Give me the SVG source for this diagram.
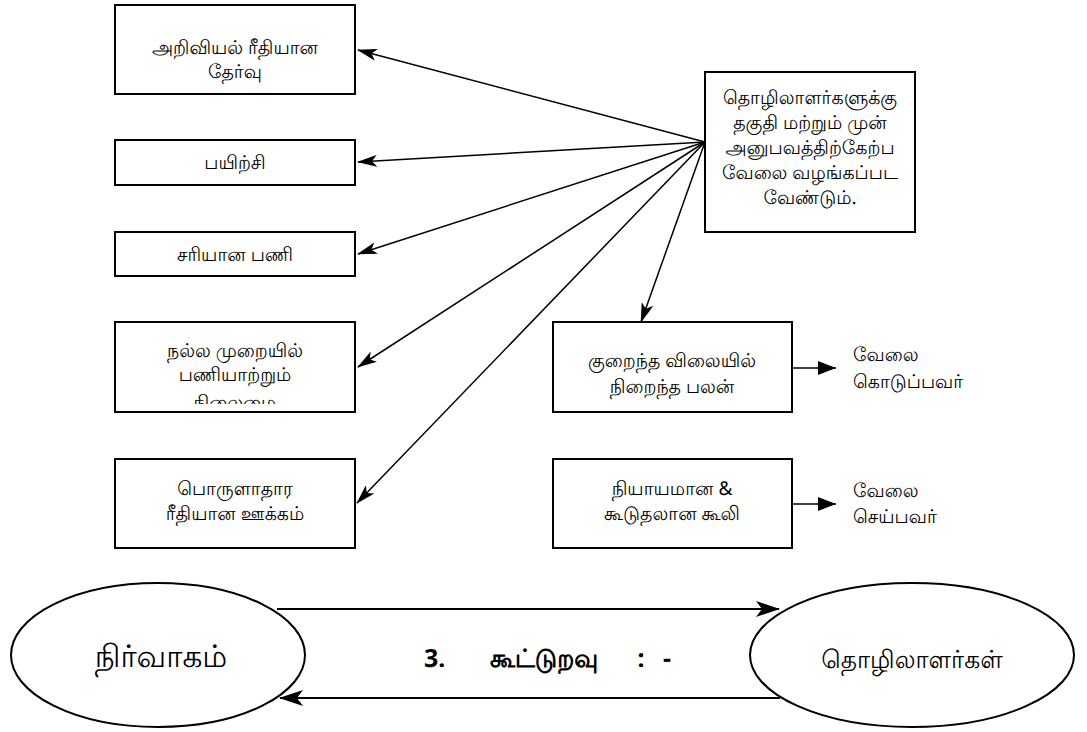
<svg xmlns="http://www.w3.org/2000/svg" width="1087" height="732" viewBox="0 0 1087 732" text-rendering="geometricPrecision">
<style>
.box{fill:#fff;stroke:#000;stroke-width:2}
.ell{fill:#fff;stroke:#000;stroke-width:2}
.t{font-family:"Noto Sans","DejaVu Sans",sans-serif;font-size:19px;fill:#000;text-anchor:middle;text-rendering:geometricPrecision}
.s{text-anchor:start}
.b{font-size:25px;font-weight:bold}
.c{stroke:#000;stroke-width:1.5;fill:none}
.c2{stroke:#000;stroke-width:2;fill:none}
</style>
<defs>
<marker id="barb" viewBox="0 0 20 12" refX="19" refY="6" markerWidth="20" markerHeight="12" markerUnits="userSpaceOnUse" orient="auto">
<path d="M0,0 L20,6 L0,12 L5,6 Z" fill="#000"/>
</marker>
<marker id="barbL" viewBox="0 0 24 16" refX="23" refY="8" markerWidth="24" markerHeight="16" markerUnits="userSpaceOnUse" orient="auto">
<path d="M0,0 L24,8 L0,16 L6,8 Z" fill="#000"/>
</marker>
<marker id="tri" viewBox="0 0 18 14" refX="18" refY="7" markerWidth="18" markerHeight="14" markerUnits="userSpaceOnUse" orient="auto">
<path d="M0,0 L18,7 L0,14 Z" fill="#000"/>
</marker>
<clipPath id="clip4"><rect x="116" y="323" width="238" height="81"/></clipPath>
</defs>

<g id="connectors">
<line class="c" x1="705" y1="142" x2="358" y2="50" marker-end="url(#barb)"/>
<line class="c" x1="705" y1="142" x2="358" y2="162" marker-end="url(#barb)"/>
<line class="c" x1="705" y1="142" x2="358" y2="254" marker-end="url(#barb)"/>
<line class="c" x1="705" y1="142" x2="358" y2="367" marker-end="url(#barb)"/>
<line class="c" x1="705" y1="142" x2="357" y2="503" marker-end="url(#barb)"/>
<line class="c" x1="705" y1="142" x2="641" y2="322" marker-end="url(#barb)"/>
<line class="c" x1="792" y1="368" x2="836" y2="368" marker-end="url(#tri)"/>
<line class="c" x1="792" y1="504" x2="836" y2="504" marker-end="url(#tri)"/>
<line class="c2" x1="277" y1="609" x2="779" y2="609" marker-end="url(#barbL)"/>
<line class="c2" x1="780" y1="698" x2="280" y2="698" marker-end="url(#barbL)"/>
</g>

<g id="n1">
<rect class="box" x="115" y="5" width="240" height="89"/>
<text class="t" x="235" y="54">அறிவியல்  ரீதியான</text>
<text class="t" x="235" y="78">தேர்வு</text>
</g>
<g id="n2">
<rect class="box" x="115" y="140" width="240" height="45"/>
<text class="t" x="235" y="169">பயிற்சி</text>
</g>
<g id="n3">
<rect class="box" x="115" y="232" width="240" height="44"/>
<text class="t" x="235" y="261">சரியான  பணி</text>
</g>
<g id="n4">
<rect class="box" x="115" y="322" width="240" height="90"/>
<g clip-path="url(#clip4)">
<text class="t" x="235" y="357">நல்ல  முறையில்</text>
<text class="t" x="235" y="381">பணியாற்றும்</text>
<text class="t" x="235" y="409">நிலைமை</text>
</g>
</g>
<g id="n5">
<rect class="box" x="115" y="459" width="240" height="89"/>
<text class="t" x="235" y="495">பொருளாதார</text>
<text class="t" x="235" y="520">ரீதியான  ஊக்கம்</text>
</g>
<g id="n6">
<rect class="box" x="705" y="72" width="210" height="160"/>
<text class="t" x="810" y="104">தொழிலாளர்களுக்கு</text>
<text class="t" x="810" y="129">தகுதி  மற்றும்  முன்</text>
<text class="t" x="810" y="154">அனுபவத்திற்கேற்ப</text>
<text class="t" x="810" y="179">வேலை  வழங்கப்பட</text>
<text class="t" x="810" y="204">வேண்டும்.</text>
</g>
<g id="n7">
<rect class="box" x="553" y="322" width="239" height="90"/>
<text class="t" x="672" y="367">குறைந்த  விலையில்</text>
<text class="t" x="672" y="393">நிறைந்த  பலன்</text>
</g>
<g id="n8">
<rect class="box" x="553" y="459" width="239" height="89"/>
<text class="t" x="672" y="495">நியாயமான  &amp;</text>
<text class="t" x="672" y="520">கூடுதலான  கூலி</text>
</g>
<g id="n9">
<text class="t s" x="853" y="361">வேலை</text>
<text class="t s" x="853" y="388">கொடுப்பவர்</text>
</g>
<g id="n10">
<text class="t s" x="853" y="497">வேலை</text>
<text class="t s" x="853" y="523">செய்பவர்</text>
</g>
<g id="n11">
<ellipse class="ell" cx="158" cy="655" rx="147" ry="72"/>
<text class="t" x="161" y="667" style="font-size:31px">நிர்வாகம்</text>
</g>
<g id="n12">
<ellipse class="ell" cx="912" cy="655" rx="162" ry="72"/>
<text class="t" x="912" y="668" style="font-size:25px">தொழிலாளர்கள்</text>
</g>
<g id="label">
<text class="t s b" x="424" y="667">3.</text>
<text class="t b" x="544" y="667">கூட்டுறவு</text>
<text class="t b" x="641" y="667">:</text>
<text class="t b" x="667" y="667">-</text>
</g>
</svg>
